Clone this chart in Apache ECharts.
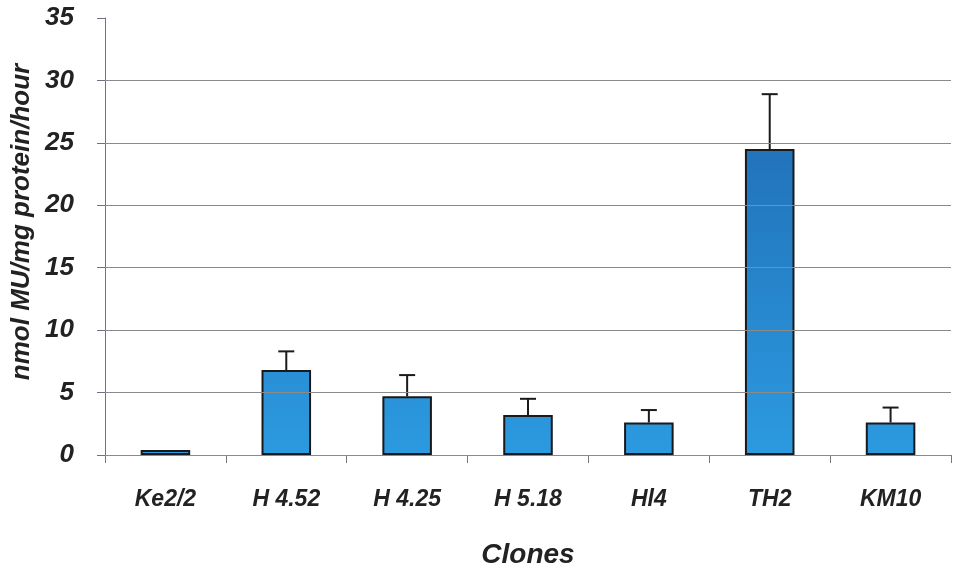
<!DOCTYPE html>
<html><head><meta charset="utf-8">
<script src="https://cdn.jsdelivr.net/npm/echarts@6/dist/echarts.min.js"></script>
<style>html,body{margin:0;padding:0;background:#fff}#c{width:955px;height:574px}</style>
</head><body><div id="c"></div>
<script>
var categories = ['Ke2/2', 'H 4.52', 'H 4.25', 'H 5.18', 'Hl4', 'TH2', 'KM10'];
var means = [0.4, 6.8, 4.7, 3.2, 2.6, 24.5, 2.6];
var errors = [0, 1.5, 1.7, 1.3, 1.0, 4.4, 1.2];
var gridValues = [0, 5, 10, 15, 20, 25, 30];
var yTicks = [0, 35, 5];
var yTitle = 'nmol MU/mg protein/hour';
var xTitle = 'Clones';

var chart = echarts.init(document.getElementById('c'));
var font = '"Liberation Sans", Arial, sans-serif';
var errData = categories.map(function (c, i) { return [i, means[i], means[i] + errors[i]]; });

chart.setOption({
  animation: false,
  backgroundColor: '#fff',
  grid: { left: 105, right: 4, top: 18, bottom: 119, outerBoundsMode: 'none', containLabel: false },
  graphic: [{
    type: 'text', x: 22, y: 222, rotation: Math.PI / 2,
    style: { text: yTitle, font: 'italic bold 26px ' + font, fill: '#222', align: 'center', verticalAlign: 'middle' }
  }],
  xAxis: {
    type: 'category', data: categories,
    name: xTitle, nameLocation: 'middle', nameGap: 86,
    nameTextStyle: { fontFamily: font, fontSize: 28, fontWeight: 'bold', fontStyle: 'italic', color: '#222' },
    axisLine: { lineStyle: { color: '#777', width: 1 } },
    axisTick: { show: true, length: 8, lineStyle: { color: '#777' } },
    axisLabel: { margin: 33, fontFamily: font, fontSize: 23, fontWeight: 'bold', fontStyle: 'italic', color: '#222' }
  },
  yAxis: {
    type: 'value', min: yTicks[0], max: yTicks[1], interval: yTicks[2],
    axisLine: { show: true, lineStyle: { color: '#756f85', width: 1 } },
    axisTick: { show: true, length: 8, lineStyle: { color: '#756f85' } },
    splitLine: { show: false },
    axisLabel: { margin: 31, fontFamily: font, fontSize: 26, fontWeight: 'bold', fontStyle: 'italic', color: '#222' }
  },
  series: [
    {
      type: 'bar', data: means, barWidth: '41%',
      itemStyle: {
        color: new echarts.graphic.LinearGradient(0, 18, 0, 455, [
          { offset: 0, color: '#1d63aa' }, { offset: 1, color: '#2c9ae0' }
        ], true),
        borderColor: '#1a1a1a', borderWidth: 2
      },
      markLine: {
        silent: true, symbol: 'none', label: { show: false },
        lineStyle: { color: '#8a8a8a', width: 1, type: 'solid' },
        data: gridValues.map(function (v) { return { yAxis: v }; })
      },
      z: 3
    },
    {
      type: 'custom', data: errData, z: 4,
      renderItem: function (params, api) {
        var lo = api.coord([api.value(0), api.value(1)]);
        var hi = api.coord([api.value(0), api.value(2)]);
        if (api.value(2) <= api.value(1)) return null;
        var hw = 8;
        var st = { stroke: '#1a1a1a', lineWidth: 2 };
        return { type: 'group', children: [
          { type: 'line', shape: { x1: lo[0], y1: lo[1], x2: hi[0], y2: hi[1] }, style: st },
          { type: 'line', shape: { x1: hi[0] - hw, y1: hi[1], x2: hi[0] + hw, y2: hi[1] }, style: st }
        ]};
      }
    }
  ]
});
</script></body></html>
